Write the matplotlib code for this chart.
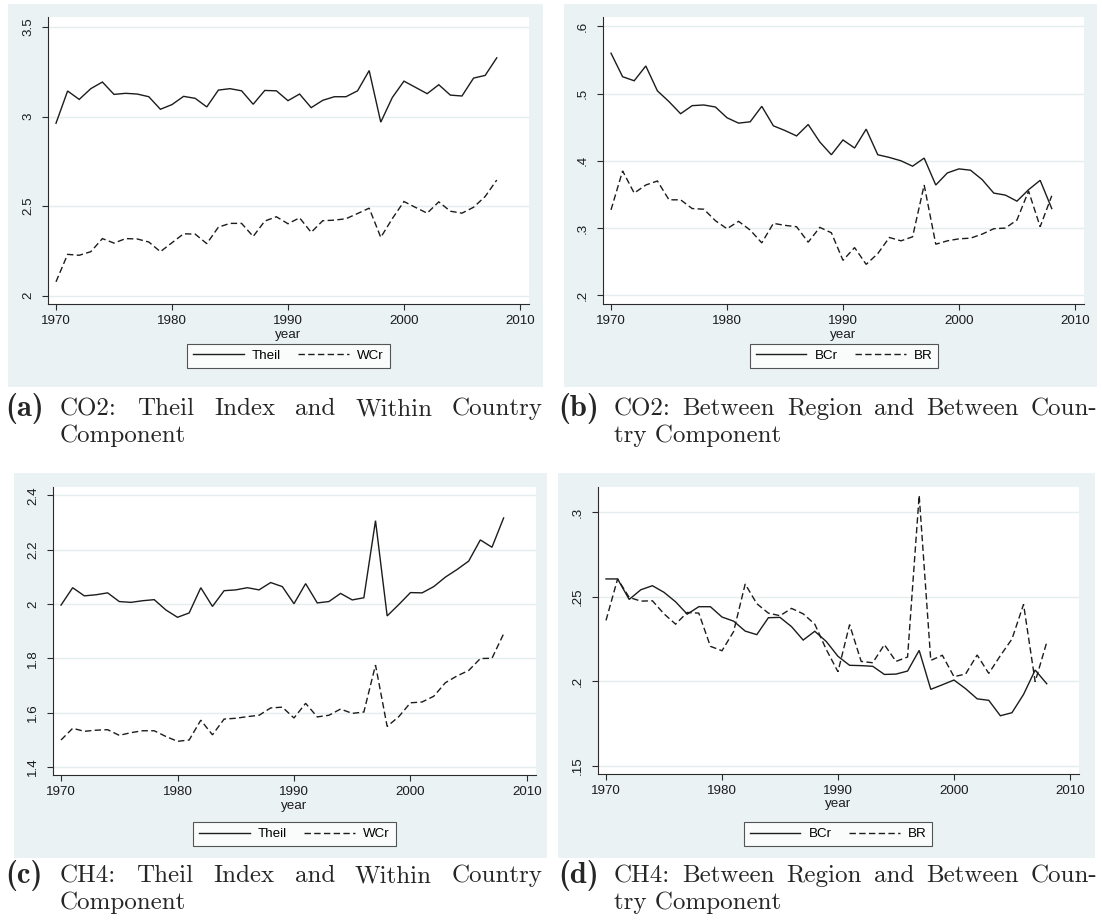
import matplotlib
matplotlib.use("Agg")
import matplotlib.pyplot as plt
from matplotlib.patches import Rectangle
from matplotlib.lines import Line2D

# ---------------------------------------------------------------- data
years = list(range(1970, 2009))

co2_theil = [2.963, 3.143, 3.096, 3.156, 3.193, 3.124, 3.130, 3.126, 3.111, 3.041,
             3.067, 3.113, 3.102, 3.054, 3.148, 3.156, 3.144, 3.069, 3.146, 3.144,
             3.089, 3.126, 3.050, 3.091, 3.111, 3.111, 3.144, 3.257, 2.969, 3.107,
             3.198, 3.163, 3.128, 3.178, 3.120, 3.115, 3.215, 3.230, 3.328]
co2_wcr = [2.078, 2.231, 2.226, 2.246, 2.319, 2.294, 2.319, 2.317, 2.300, 2.246,
           2.296, 2.346, 2.344, 2.291, 2.383, 2.404, 2.404, 2.331, 2.417, 2.441,
           2.402, 2.435, 2.354, 2.419, 2.422, 2.430, 2.459, 2.489, 2.326, 2.431,
           2.526, 2.493, 2.461, 2.524, 2.472, 2.461, 2.494, 2.554, 2.646]

co2_bcr = [.560, .525, .519, .541, .504, .488, .470, .482, .483, .480,
           .464, .456, .458, .481, .452, .445, .437, .454, .428, .409,
           .431, .419, .447, .409, .405, .400, .392, .404, .364, .382,
           .388, .386, .372, .352, .349, .340, .357, .371, .329]
co2_br = [.327, .385, .352, .364, .370, .342, .342, .329, .328, .311,
          .299, .310, .297, .278, .307, .304, .302, .279, .301, .293,
          .252, .271, .246, .262, .286, .281, .287, .364, .276, .281,
          .284, .285, .291, .299, .300, .312, .355, .302, .348]

ch4_theil = [1.996, 2.060, 2.030, 2.034, 2.041, 2.009, 2.006, 2.012, 2.016, 1.978,
             1.951, 1.967, 2.060, 1.991, 2.049, 2.052, 2.060, 2.052, 2.079, 2.064,
             2.001, 2.075, 2.004, 2.009, 2.039, 2.015, 2.023, 2.307, 1.956, 1.998,
             2.042, 2.041, 2.064, 2.099, 2.127, 2.158, 2.236, 2.209, 2.317]
ch4_wcr = [1.499, 1.542, 1.531, 1.535, 1.537, 1.516, 1.526, 1.533, 1.533, 1.512,
           1.494, 1.499, 1.572, 1.518, 1.576, 1.579, 1.585, 1.590, 1.617, 1.620,
           1.580, 1.634, 1.584, 1.590, 1.613, 1.597, 1.602, 1.775, 1.549, 1.585,
           1.636, 1.639, 1.660, 1.710, 1.735, 1.755, 1.799, 1.800, 1.890]

ch4_bcr = [.2605, .2605, .2484, .2541, .2565, .2526, .2470, .2397, .2441, .2441,
           .2380, .2356, .2297, .2276, .2376, .2378, .2323, .2244, .2296, .2235,
           .2148, .2095, .2093, .2089, .2041, .2043, .2061, .2183, .1953, .1980,
           .2008, .1957, .1897, .1888, .1797, .1815, .1923, .2067, .1986]
ch4_br = [.2360, .2605, .2496, .2474, .2476, .2399, .2338, .2407, .2403, .2207,
          .2181, .2294, .2575, .2459, .2403, .2388, .2431, .2399, .2338, .2187,
          .2057, .2335, .2118, .2110, .2217, .2118, .2144, .3099, .2124, .2154,
          .2028, .2043, .2156, .2047, .2152, .2250, .2455, .1998, .2231]

x_ticks = [1970, 1980, 1990, 2000, 2010]
x_title = "year"

co2_theil_ticks = [2, 2.5, 3, 3.5]
co2_theil_labels = ["2", "2.5", "3", "3.5"]
co2_between_ticks = [.2, .3, .4, .5, .6]
co2_between_labels = [".2", ".3", ".4", ".5", ".6"]
ch4_theil_ticks = [1.4, 1.6, 1.8, 2.0, 2.2, 2.4]
ch4_theil_labels = ["1.4", "1.6", "1.8", "2", "2.2", "2.4"]
ch4_between_ticks = [.15, .2, .25, .3]
ch4_between_labels = [".15", ".2", ".25", ".3"]

captions = [
    ("(a)", "CO2:  Theil Index and Within Country", "Component"),
    ("(b)", "CO2: Between Region and Between Coun-", "try Component"),
    ("(c)", "CH4:  Theil Index and Within Country", "Component"),
    ("(d)", "CH4: Between Region and Between Coun-", "try Component"),
]

# ---------------------------------------------------------------- style
W, H = 1102, 922
BG = "#EAF2F3"
GRID = "#E4EDEF"
INK = "#1c1c1c"
AXC = "#2b2b2b"
CAP = "#262626"
SANS = ["Liberation Sans", "DejaVu Sans"]
DASH = (0, (4.6, 2.4))

fig = plt.figure(figsize=(W / 100, H / 100), dpi=100)
fig.patch.set_facecolor("white")


def fx(x):
    return x / W


def fy(y):
    return 1 - y / H


def panel(bg, box, ylim, yticks, ylabels, series, leg_center):
    x0, y0, x1, y1 = bg
    fig.patches.append(Rectangle((fx(x0), fy(y1)), fx(x1 - x0), (y1 - y0) / H,
                                 transform=fig.transFigure, facecolor=BG,
                                 edgecolor="none", zorder=-10))
    a0, b0, a1, b1 = box
    ax = fig.add_axes([fx(a0), fy(b1), fx(a1 - a0), (b1 - b0) / H])
    ax.set_zorder(1)
    ax.set_facecolor("white")
    for name, vals, ls in series:
        ax.plot(years, vals, color=INK, lw=1.0, linestyle=ls, label=name,
                solid_joinstyle="miter", dash_joinstyle="miter")
    ax.set_xlim(1969.31, 2010.78)
    ax.set_ylim(*ylim)
    ax.set_xticks(x_ticks)
    ax.set_xticklabels([str(t) for t in x_ticks], fontfamily=SANS, fontsize=9.6,
                       color=INK)
    ax.set_yticks(yticks)
    ax.set_yticklabels(ylabels, rotation=90, va="center", fontfamily=SANS,
                       fontsize=9.6, color=INK)
    ax.tick_params(axis="x", direction="out", length=4, width=0.8, color=AXC, pad=4)
    ax.tick_params(axis="y", direction="out", length=4, width=0.8, color=AXC, pad=6)
    for s in ("top", "right"):
        ax.spines[s].set_visible(False)
    for s in ("left", "bottom"):
        ax.spines[s].set_color(AXC)
        ax.spines[s].set_linewidth(0.8)
    ax.yaxis.grid(True, color=GRID, lw=1.0)
    ax.set_axisbelow(True)
    ax.set_xlabel(x_title, fontfamily=SANS, fontsize=9.6, color=INK, labelpad=1)
    handles = [Line2D([], [], color=INK, lw=1.0, linestyle=ls) for _, _, ls in series]
    labels = [n for n, _, _ in series]
    leg = fig.legend(handles, labels, loc="center",
                     bbox_to_anchor=(fx(leg_center[0]), fy(leg_center[1])),
                     bbox_transform=fig.transFigure, ncol=2, frameon=True,
                     fancybox=False, handlelength=3.8, handletextpad=0.6,
                     columnspacing=1.3, borderpad=0.45,
                     prop={"family": SANS, "size": 9.6})
    leg.set_zorder(5)
    leg.get_frame().set_edgecolor(AXC)
    leg.get_frame().set_linewidth(0.8)
    leg.get_frame().set_facecolor("white")
    return ax


panel((8, 4, 543, 387), (48, 17, 529, 304), (1.954, 3.556),
      co2_theil_ticks, co2_theil_labels,
      [("Theil", co2_theil, "-"), ("WCr", co2_wcr, DASH)], (288.5, 356))
panel((564, 4, 1097, 387), (603, 17, 1084, 304), (0.1871, 0.6138),
      co2_between_ticks, co2_between_labels,
      [("BCr", co2_bcr, "-"), ("BR", co2_br, DASH)], (844, 356))
panel((14, 473, 547, 858), (53, 487, 536, 775), (1.370, 2.431),
      ch4_theil_ticks, ch4_theil_labels,
      [("Theil", ch4_theil, "-"), ("WCr", ch4_wcr, DASH)], (294.5, 834))
panel((558, 473, 1095, 858), (598, 487, 1079, 774), (0.1453, 0.3148),
      ch4_between_ticks, ch4_between_labels,
      [("BCr", ch4_bcr, "-"), ("BR", ch4_br, DASH)], (838, 834))

# ---------------------------------------------------------------- captions
CAP_SIZE = 18
TAG_SIZE = 22
renderer = fig.canvas.get_renderer()


def caption(tag, line1, line2, xl, xt0, xt1, base1, base2):
    fig.text(fx(xl), fy(base1 + 1), tag, fontfamily="cmb10", fontsize=TAG_SIZE,
             va="baseline", ha="left", color=CAP)
    words = line1.split()
    texts = [fig.text(0, fy(base1), w, fontfamily="cmr10", fontsize=CAP_SIZE,
                      va="baseline", ha="left", color=CAP) for w in words]
    widths = [t.get_window_extent(renderer).width for t in texts]
    gap = (xt1 - xt0 - sum(widths)) / (len(words) - 1)
    x = xt0
    for t, w in zip(texts, widths):
        t.set_x(fx(x))
        x += w + gap
    fig.text(fx(xt0), fy(base2), line2, fontfamily="cmr10", fontsize=CAP_SIZE,
             va="baseline", ha="left", color=CAP)


caption(*captions[0], 5, 60, 543, 415, 442)
caption(*captions[1], 558, 614, 1097, 415, 442)
caption(*captions[2], 5, 60, 543, 882, 909)
caption(*captions[3], 558, 614, 1097, 882, 909)

fig.savefig("out.png", dpi=100, facecolor="white")
